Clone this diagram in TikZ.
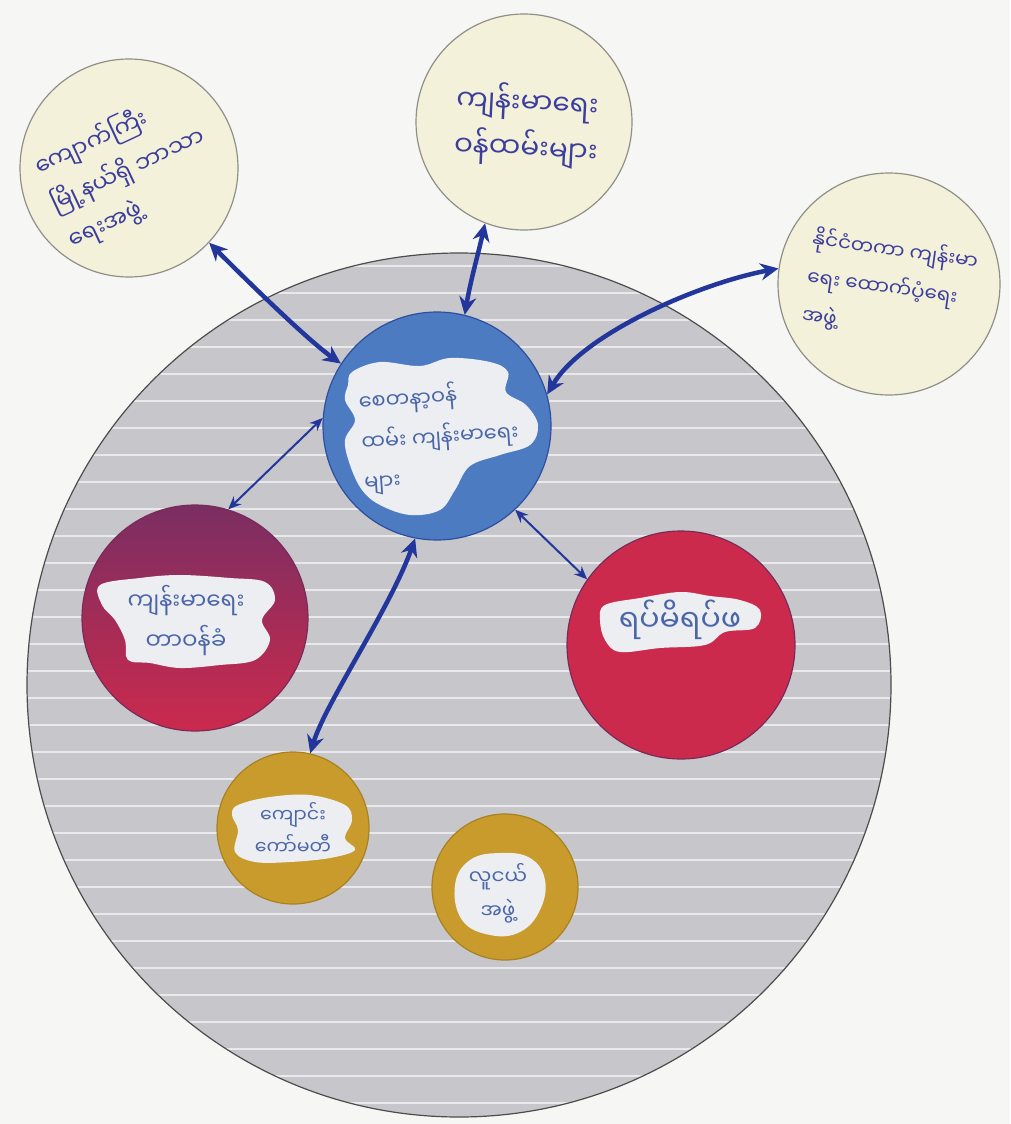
\documentclass[tikz,border=0pt]{standalone}
\usepackage{fontspec}
\newfontfamily\mya[Script=Myanmar]{Noto Sans Myanmar UI}
\usetikzlibrary{arrows.meta}
\definecolor{paper}{HTML}{F6F6F4}
\definecolor{stripe}{HTML}{C6C6CB}
\definecolor{stripeline}{HTML}{E9E9EC}
\definecolor{cream}{HTML}{F4F1DA}
\definecolor{creamline}{HTML}{8F8F88}
\definecolor{bluefill}{HTML}{4C7BC2}
\definecolor{blueline}{HTML}{2E4E9E}
\definecolor{redfill}{HTML}{CB2A4D}
\definecolor{redpurple}{HTML}{7A2E62}
\definecolor{redline}{HTML}{7A2A5A}
\definecolor{goldfill}{HTML}{C99B2C}
\definecolor{goldline}{HTML}{A88220}
\definecolor{blob}{HTML}{ECEEF2}
\definecolor{ink}{HTML}{3B3E9C}
\definecolor{blobink}{HTML}{4A66A8}
\definecolor{arrowblue}{HTML}{22369C}
\tikzset{
  disc/.style={circle, inner sep=0pt, line width=1.2pt},
  creamdisc/.style={disc, fill=cream, draw=creamline},
  bluedisc/.style={disc, fill=bluefill, draw=blueline},
  golddisc/.style={disc, fill=goldfill, draw=goldline},
  blobfill/.style={fill=blob},
  inktext/.style={font=\mya, text=ink, align=left, inner sep=0pt},
  blobtext/.style={font=\mya, text=blobink, align=center, inner sep=0pt},
  bigarrow/.style={draw=arrowblue, line width=4.5pt, {Stealth[length=18pt,width=17pt]}-{Stealth[length=18pt,width=17pt]}},
  thinarrow/.style={draw=arrowblue, line width=2pt, {Stealth[length=13pt,width=11pt]}-{Stealth[length=13pt,width=11pt]}}
}
\begin{document}
\begin{tikzpicture}[x=1pt,y=-1pt]
\useasboundingbox (0,0) rectangle (1010,1124);
\fill[paper] (0,0) rectangle (1010,1124);

% big lined circle
\node[circle, inner sep=0pt, minimum size=864pt, fill=stripe] (big) at (459,685) {};
\begin{scope}
  \clip (459,685) circle[radius=432pt];
  \foreach \y in {266,293,...,1110} \draw[stripeline, line width=1.8pt] (20,\y) -- (900,\y);
\end{scope}
\draw[black!70, line width=1.2pt] (big.center) circle[radius=432pt];

% outer cream circles
\node[creamdisc, minimum size=218pt] (tl) at (129,168) {};
\node[creamdisc, minimum size=216pt] (top) at (524,122) {};
\node[creamdisc, minimum size=222pt] (rt) at (889,284) {};

% central blue circle
\node[bluedisc, minimum size=228pt] (ctr) at (437,426) {};
\fill[blobfill] plot[smooth cycle, tension=0.6] coordinates {(352,372) (380,362) (420,366) (450,358) (490,362) (508,372) (506,392) (526,405) (538,425) (530,445) (500,455) (470,466) (455,490) (440,510) (410,515) (380,505) (362,490) (350,465) (345,440) (355,420) (345,400) (348,385)};

% red circles
\node[disc, minimum size=226pt, top color=redpurple, middle color=redfill, bottom color=redfill, draw=redline] (rl) at (195,618) {};
\fill[blobfill] plot[smooth cycle, tension=0.6] coordinates {(100,585) (140,578) (180,575) (230,578) (265,582) (275,600) (262,620) (270,640) (255,660) (220,665) (180,668) (150,663) (128,660) (125,640) (115,620) (102,605)};
\node[disc, minimum size=228pt, fill=redfill, draw=redline] (rr) at (681,645) {};
\fill[blobfill] plot[smooth cycle, tension=0.6] coordinates {(605,605) (640,598) (680,592) (710,596) (740,600) (760,610) (755,628) (725,632) (705,645) (660,648) (620,652) (605,640) (600,620)};

% yellow circles
\node[golddisc, minimum size=152pt] (y1) at (293,828) {};
\fill[blobfill] plot[smooth cycle, tension=0.6] coordinates {(238,805) (270,797) (310,795) (345,805) (352,820) (345,838) (355,850) (330,858) (290,862) (255,862) (235,852) (238,830) (232,815)};
\node[golddisc, minimum size=146pt] (y2) at (505,887) {};
\fill[blobfill] plot[smooth cycle, tension=0.7] coordinates {(455,885) (470,860) (500,853) (530,858) (545,880) (540,910) (520,932) (490,935) (462,920)};

% texts
\node[inktext, font=\mya\fontsize{23}{40}\selectfont, rotate=25] (tlT) at (128,170) {ကျောက်ကြီး\\မြို့နယ်ရှိ ဘာသာ\\ရေးအဖွဲ့};
\node[inktext, font=\mya\fontsize{28}{46}\selectfont, rotate=-3] (topT) at (527,125) {ကျန်းမာရေး\\ဝန်ထမ်းများ};
\node[inktext, font=\mya\fontsize{20}{38}\selectfont, rotate=-8] (rtT) at (890,288) {နိုင်ငံတကာ ကျန်းမာ\\ရေး ထောက်ပံ့ရေး\\အဖွဲ့};
\node[blobtext, align=left, font=\mya\fontsize{21}{40}\selectfont, rotate=4] (ctrT) at (440,437) {စေတနာ့ဝန်\\ထမ်း ကျန်းမာရေး\\များ};
\node[blobtext, font=\mya\fontsize{23}{40}\selectfont] (rlT) at (186,621) {ကျန်းမာရေး\\တာဝန်ခံ};
\node[blobtext, font=\mya\fontsize{30}{36}\selectfont] (rrT) at (680,620) {ရပ်မိရပ်ဖ};
\node[blobtext, font=\mya\fontsize{19}{32}\selectfont] (y1T) at (293,829) {ကျောင်း\\ကော်မတီ};
\node[blobtext, font=\mya\fontsize{20}{34}\selectfont] (y2T) at (498,893) {လူငယ်\\အဖွဲ့};

% connectors
\draw[bigarrow] (tl.-43) .. controls +(35,35) and +(-35,-25) .. (ctr.147);
\draw[bigarrow] (top.-111) .. controls +(-8,35) and +(6,-35) .. (ctr.76);
\draw[bigarrow] (ctr.16) .. controls +(35,-60) and +(-80,15) .. (rt.172);
\draw[bigarrow] (ctr.-101) .. controls +(-25,70) and +(15,-50) .. (y1.77);
\draw[thinarrow] (ctr.176) -- (rl.73);
\draw[thinarrow] (ctr.-47) -- (rr.145);
\end{tikzpicture}
\end{document}
